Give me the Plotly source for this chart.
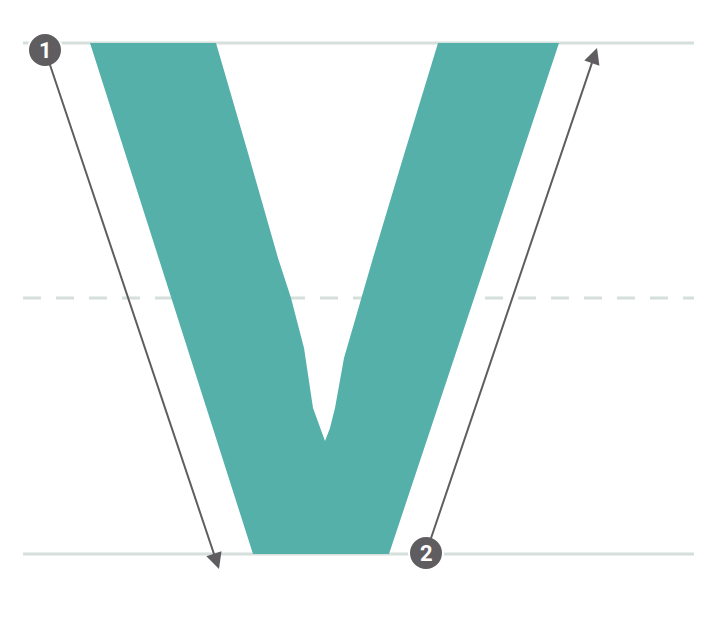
import plotly.graph_objects as go

W, H = 704, 618

# V outline in pixel space (x, y from top)
glyph_x = [82, 208, 240, 270, 283, 296, 305, 312, 317, 322, 327, 336, 353, 365, 395, 430, 551, 381, 245, 82]
glyph_y = [35, 35, 145, 250, 290, 340, 400, 420, 433, 420, 400, 350, 290, 250, 150, 35, 35, 546, 546, 35]

guide_y = [35, 290, 546]
guide_dash = ["solid", "dash", "solid"]

arrow_start = [(37, 42), (418, 545)]
arrow_end = [(211, 561), (589, 40)]
badge_labels = ["1", "2"]

line_col = "#d5e0dc"
teal = "#54b0a9"
grey = "#5f5d60"

fig = go.Figure()
for y, d in zip(guide_y, guide_dash):
    fig.add_shape(type="line", x0=15, x1=686, y0=y, y1=y, layer="below",
                  line=dict(color=line_col, width=3, dash="18px,15px" if d == "dash" else "solid"))

fig.add_trace(go.Scatter(x=glyph_x, y=glyph_y, fill="toself", fillcolor=teal,
                         mode="lines", line=dict(width=0), hoverinfo="skip"))

for (x0, y0), (x1, y1) in zip(arrow_start, arrow_end):
    fig.add_annotation(x=x1, y=y1, ax=x0, ay=y0, xref="x", yref="y", axref="x", ayref="y",
                       showarrow=True, arrowhead=2, arrowsize=1.6, arrowwidth=2,
                       arrowcolor=grey, text="")

for (x0, y0), lab in zip(arrow_start, badge_labels):
    fig.add_shape(type="circle", x0=x0 - 17, x1=x0 + 17, y0=y0 - 17, y1=y0 + 17,
                  fillcolor=grey, line=dict(color="white", width=2))
    fig.add_annotation(x=x0, y=y0, text=f"<b>{lab}</b>", showarrow=False,
                       font=dict(color="white", size=22, family="Roboto"))

fig.update_layout(width=W, height=H, margin=dict(l=0, r=0, t=0, b=0),
                  plot_bgcolor="white", paper_bgcolor="white", showlegend=False,
                  xaxis=dict(range=[0, W], visible=False, fixedrange=True),
                  yaxis=dict(range=[H, 0], visible=False, fixedrange=True))
fig.write_html("out.html")
